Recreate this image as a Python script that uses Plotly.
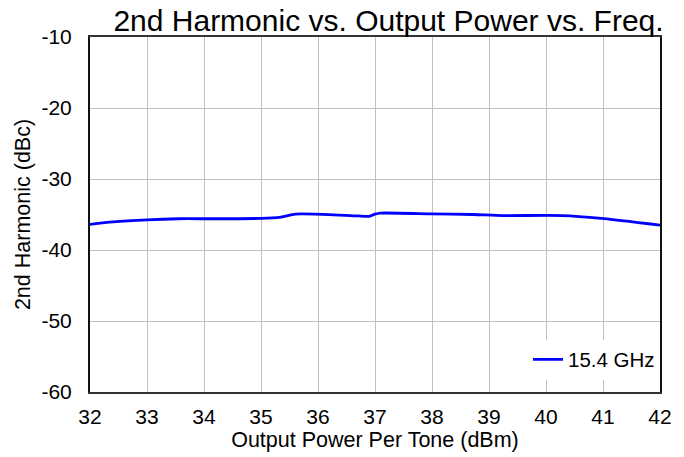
import plotly.graph_objects as go

power_dbm = [32.0, 32.4, 33.0, 33.55, 34.1, 35.0, 35.33, 35.6, 35.95, 36.7, 36.9, 37.0, 37.1, 37.98, 38.72, 39.24, 40.28, 40.97, 42.0]
harm_15_4 = [-36.4, -36.05, -35.75, -35.6, -35.6, -35.55, -35.4, -34.95, -34.95, -35.2, -35.25, -34.95, -34.8, -34.9, -35.0, -35.15, -35.15, -35.55, -36.5]
series_name = "15.4 GHz"
x_ticks = list(range(32, 43))
y_ticks = [-10, -20, -30, -40, -50, -60]

font = "Liberation Sans, Arial, sans-serif"

fig = go.Figure()
fig.add_trace(go.Scatter(
    x=power_dbm, y=harm_15_4, mode="lines", name=series_name,
    line=dict(color="#0000ff", width=2.8, shape="spline", smoothing=0.6),
))

fig.update_layout(
    width=684, height=457,
    margin=dict(l=90, r=14, t=37, b=65),
    paper_bgcolor="white", plot_bgcolor="white",
    font=dict(family=font, size=21, color="black"),
    title=dict(text="2nd Harmonic vs. Output Power vs. Freq.", x=0.568, xanchor="center",
               yref="container", y=1 - 20 / 457, yanchor="middle",
               font=dict(size=30, family=font, color="black")),
    showlegend=True,
    legend=dict(x=1.0, y=0.035, xanchor="right", yanchor="bottom",
                bgcolor="white", borderwidth=0, font=dict(size=20.5),
                itemwidth=30),
)
fig.update_xaxes(
    range=[32, 42], tickvals=x_ticks, ticktext=[str(v) for v in x_ticks],
    showgrid=True, gridcolor="#c0c0c0", gridwidth=1,
    showline=True, linecolor="#333333", linewidth=2, mirror=True,
    ticks="outside", ticklen=5, tickcolor="rgba(0,0,0,0)",
    title=dict(text="Output Power Per Tone (dBm)", standoff=0, font=dict(size=21.5)),
    zeroline=False,
)
fig.update_yaxes(
    range=[-60, -10], tickvals=y_ticks, ticktext=[str(v) for v in y_ticks],
    showgrid=True, gridcolor="#c0c0c0", gridwidth=1,
    showline=True, linecolor="#111111", linewidth=2, mirror=True,
    ticks="outside", ticklen=12, tickcolor="rgba(0,0,0,0)",
    title=dict(text="2nd Harmonic (dBc)", standoff=5, font=dict(size=21.5)),
    zeroline=False,
)

fig.write_html("out.html")
